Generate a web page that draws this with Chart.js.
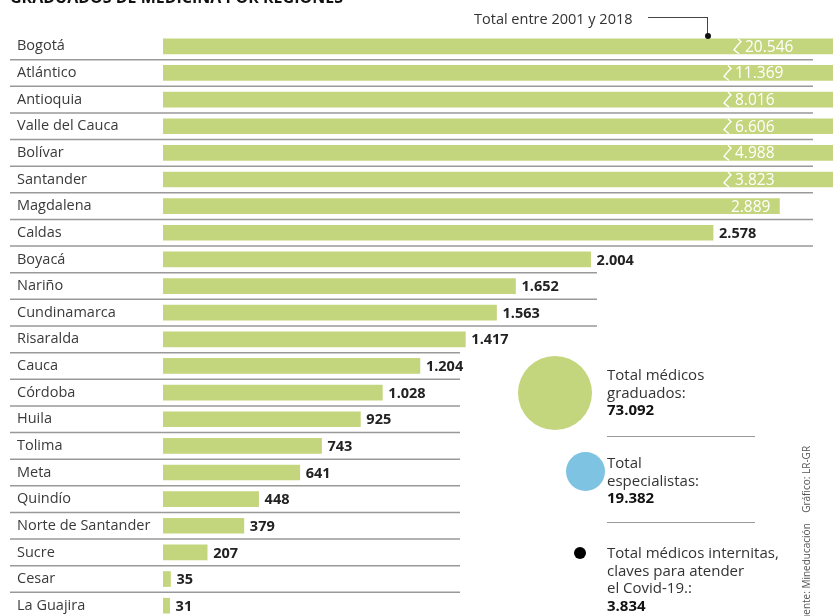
<!DOCTYPE html>
<html>
<head>
<meta charset="utf-8">
<script src="https://cdn.jsdelivr.net/npm/chart.js@4"></script>
<style>
html,body{margin:0;padding:0;overflow:hidden;background:#fff;}
body{width:833px;height:616px;position:relative;font-family:"Open Sans",sans-serif;color:#333;}
#wrap{position:absolute;left:0;top:0;width:833px;height:630px;}
.txt{position:absolute;white-space:nowrap;font-size:15px;line-height:17.5px;color:#333;}
.titulo{position:absolute;left:10px;top:-14px;font-size:16px;font-weight:bold;color:#111;white-space:nowrap;}
.circ{position:absolute;border-radius:50%;}
.hr{position:absolute;height:0;border-top:1.5px solid #999;}
.fuente{position:absolute;left:799px;top:626px;transform:rotate(-90deg);transform-origin:0 0;font-size:10px;color:#555;white-space:pre;}
</style>
</head>
<body>
<div id="wrap"><canvas id="chart"></canvas></div>

<div class="titulo">GRADUADOS DE MEDICINA POR REGIONES</div>
<div class="txt" style="left:474px;top:10px;font-size:14.5px;">Total entre 2001 y 2018</div>
<div class="hr" style="left:648px;top:17px;width:60px;border-top-width:1px;border-color:#444;"></div>
<div style="position:absolute;left:707px;top:17px;width:0;height:17px;border-left:1px solid #444;"></div>
<div class="circ" style="left:705px;top:33px;width:6px;height:6px;background:#111;"></div>

<div id="resumen"></div>
<div class="fuente">Fuente: Mineducación    Gráfico: LR-GR</div>

<script>
// datos
let regiones = ["Bogotá","Atlántico","Antioquia","Valle del Cauca","Bolívar","Santander","Magdalena","Caldas","Boyacá","Nariño","Cundinamarca","Risaralda","Cauca","Córdoba","Huila","Tolima","Meta","Quindío","Norte de Santander","Sucre","Cesar","La Guajira"];
let graduados = [20546,11369,8016,6606,4988,3823,2889,2578,2004,1652,1563,1417,1204,1028,925,743,641,448,379,207,35,31];

let resumenTextos = [["Total médicos","graduados:"],["Total","especialistas:"],["Total médicos internitas,","claves para atender","el Covid-19.:"]];
let resumenValores = ["73.092","19.382","3.834"];

let verde = "rgb(196,214,125)";
let ejeMax = 3140;

function miles(v){
return String(v).replace(/\B(?=(\d{3})+(?!\d))/g,".");
}

/* resumen a la derecha */
let resumen = document.getElementById("resumen");
let circulos = [
{x:518,y:356,d:74,c:verde},
{x:566,y:452,d:39,c:"rgb(126,196,226)"},
{x:574,y:547,d:12,c:"#000"}
];
let tops = [366,454,544];
for(let i=0;i<resumenTextos.length;i++){
let c = circulos[i];
resumen.innerHTML += '<div class="circ" style="left:'+c.x+'px;top:'+c.y+'px;width:'+c.d+'px;height:'+c.d+'px;background:'+c.c+';"></div>';
let html = resumenTextos[i].join("<br>") + '<br><b style="color:#111">' + resumenValores[i] + '</b>';
resumen.innerHTML += '<div class="txt" style="left:607px;top:'+tops[i]+'px;">'+html+'</div>';
}
resumen.innerHTML += '<div class="hr" style="left:607px;top:436px;width:148px;"></div>';
resumen.innerHTML += '<div class="hr" style="left:607px;top:522px;width:148px;"></div>';

/* lineas separadoras entre filas */
let separadores = {
id:"separadores",
beforeDatasetsDraw(chart){
let ctx = chart.ctx;
let y = chart.scales.y;
ctx.save();
ctx.strokeStyle = "#999";
ctx.lineWidth = 1.5;
for(let i=0;i<regiones.length;i++){
let yy = y.getPixelForValue(i) + (y.getPixelForValue(1)-y.getPixelForValue(0))/2;
let fin = 460;
if(i<=7) fin = 813;
else if(i<=10) fin = 597;
ctx.beginPath();
ctx.moveTo(10,yy);
ctx.lineTo(fin,yy);
ctx.stroke();
}
ctx.restore();
}
};

/* etiquetas de valores */
let etiquetas = {
id:"etiquetas",
afterDatasetsDraw(chart){
let ctx = chart.ctx;
let meta = chart.getDatasetMeta(0);
let area = chart.chartArea;
ctx.save();
ctx.textBaseline = "middle";
meta.data.forEach(function(bar,i){
let v = graduados[i];
let y = bar.y + 1;
if(v > ejeMax){
// corte de la barra
let zx = i==0 ? 737 : 727;
let t = bar.y - 7.5, b = bar.y + 7.5;
ctx.strokeStyle = "#fff";
ctx.lineWidth = 1.4;
ctx.beginPath();
ctx.moveTo(zx+1,t);
ctx.lineTo(zx+4,t+3);
ctx.lineTo(zx+1,t+6);
ctx.lineTo(zx-3,b-4);
ctx.lineTo(zx+2,b);
ctx.stroke();
ctx.fillStyle = "#fff";
ctx.font = "15.5px 'Open Sans'";
ctx.textAlign = "left";
ctx.fillText(miles(v), zx+8, y);
}
else if(bar.x > area.right - 70){
ctx.fillStyle = "#fff";
ctx.font = "15.5px 'Open Sans'";
ctx.textAlign = "right";
ctx.fillText(miles(v), bar.x-9, y);
}
else{
ctx.fillStyle = "#222";
ctx.font = "bold 14.5px 'Open Sans'";
ctx.textAlign = "left";
ctx.fillText(miles(v), bar.x+6, y);
}
});
ctx.restore();
}
};

let ctx = document.getElementById("chart").getContext("2d");

new Chart(ctx,{
type:"bar",
data:{
labels:regiones,
datasets:[{
data:graduados,
backgroundColor:verde,
barThickness:15
}]
},
options:{
indexAxis:"y",
responsive:true,
maintainAspectRatio:false,
animation:false,
layout:{padding:{left:17,top:33,bottom:11,right:0}},
plugins:{legend:{display:false},tooltip:{enabled:false}},
scales:{
x:{display:false,min:0,max:ejeMax},
y:{
grid:{display:false},
border:{display:false},
afterFit:function(s){ s.width = 146; },
ticks:{
crossAlign:"far",
padding:0,
color:"#3a3a3a",
font:{family:"'Open Sans'",size:14.5}
}
}
}
},
plugins:[separadores,etiquetas]
});
</script>
</body>
</html>
